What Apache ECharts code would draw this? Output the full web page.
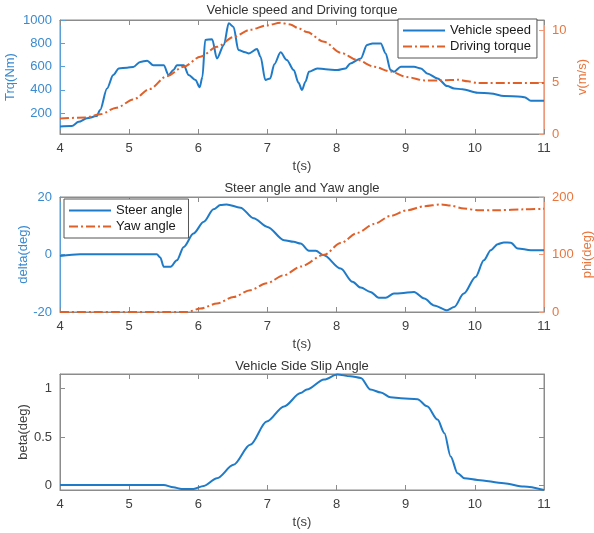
<!DOCTYPE html>
<html><head><meta charset="utf-8">
<script src="https://cdn.jsdelivr.net/npm/echarts@6/dist/echarts.min.js"></script>
<style>html,body{margin:0;padding:0;background:#fff}#c{width:594px;height:533px}</style>
</head><body><div id="c"></div>
<script>
// ---- data ----
const xTicks = [4, 5, 6, 7, 8, 9, 10, 11];

const speedT = [4, 4.17, 4.27, 4.39, 4.53, 4.58, 4.68, 4.77, 4.85, 4.97, 5.06, 5.16, 5.26, 5.35, 5.5, 5.57, 5.64, 5.69, 5.79, 5.86, 5.96, 6.02, 6.06, 6.1, 6.2, 6.27, 6.37, 6.44, 6.51, 6.58, 6.68, 6.73, 6.85, 6.9, 6.97, 7.04, 7.1, 7.19, 7.28, 7.38, 7.45, 7.5, 7.55, 7.6, 7.72, 7.84, 8.01, 8.13, 8.2, 8.35, 8.44, 8.52, 8.64, 8.71, 8.78, 8.83, 8.93, 9.12, 9.22, 9.31, 9.46, 9.6, 9.7, 9.82, 10.04, 10.23, 10.42, 10.67, 10.72, 10.81, 11];
const speedV = [85, 88, 125, 155, 174, 226, 412, 527, 584, 590, 596, 640, 650, 610, 610, 527, 570, 610, 610, 527, 484, 421, 510, 828, 835, 670, 785, 971, 940, 742, 722, 713, 750, 684, 484, 498, 620, 722, 656, 570, 460, 398, 470, 555, 584, 576, 570, 584, 627, 670, 785, 799, 799, 713, 570, 555, 598, 598, 584, 541, 498, 432, 412, 404, 375, 369, 346, 341, 336, 306, 306];

const torqueT = [4, 4.37, 4.58, 4.82, 5.06, 5.3, 5.54, 5.79, 6.03, 6.27, 6.51, 6.75, 6.99, 7.19, 7.33, 7.45, 7.57, 7.82, 8.06, 8.3, 8.54, 8.78, 9.02, 9.27, 9.51, 9.65, 9.75, 9.9, 10.04, 11];
const torqueV = [1.49, 1.59, 1.9, 2.54, 3.33, 4.35, 5.56, 6.5, 7.46, 8.41, 9.36, 10.06, 10.48, 10.73, 10.57, 10.2, 9.84, 8.89, 7.84, 7.14, 6.5, 6.03, 5.49, 5.17, 5.17, 5.2, 5.24, 5.08, 4.92, 4.92];

const steerT = [4, 4.29, 5.4, 5.45, 5.5, 5.6, 5.69, 5.79, 5.93, 6.08, 6.22, 6.32, 6.41, 6.61, 6.8, 7, 7.24, 7.38, 7.48, 7.6, 7.7, 7.81, 8.06, 8.23, 8.35, 8.49, 8.61, 8.71, 8.83, 8.93, 9.12, 9.27, 9.41, 9.6, 9.7, 9.84, 10.01, 10.13, 10.23, 10.33, 10.42, 10.52, 10.62, 10.81, 11];
const steerV = [-0.5, 0.1, 0.1, -1, -4.3, -4.3, -2, 2.65, 7.3, 11.4, 15.7, 17.2, 17.4, 16.3, 12.6, 9.6, 5, 4.4, 3.8, 1.3, 1.3, -0.2, -4.9, -9.5, -11.5, -13, -15, -15, -13.6, -13.5, -13, -15.3, -17.7, -19.4, -18.3, -13.6, -7.8, -2, 1.5, 3.6, 4.2, 4.1, 2.1, 1.5, 1.5];

const yawT = [4, 5.84, 6.03, 6.27, 6.51, 6.75, 6.99, 7.24, 7.48, 7.82, 8.06, 8.3, 8.54, 8.78, 9.02, 9.27, 9.51, 9.65, 9.84, 10.04, 10.33, 10.72, 11];
const yawV = [0, 0, 6, 14.7, 26, 38, 50, 64, 79, 99.5, 120, 137.5, 153, 167, 177, 184, 187, 185, 180, 177, 177, 178.5, 179.6];

const slipT = [4, 5.5, 5.64, 5.76, 5.93, 6.08, 6.27, 6.51, 6.75, 6.99, 7.24, 7.48, 7.57, 7.82, 8.01, 8.2, 8.35, 8.49, 8.64, 8.78, 8.93, 9.17, 9.31, 9.46, 9.56, 9.65, 9.75, 9.85, 10.04, 10.42, 10.71, 11];
const slipV = [0.007, 0.007, -0.017, -0.034, -0.034, -0.003, 0.076, 0.214, 0.42, 0.66, 0.816, 0.954, 0.99, 1.093, 1.145, 1.127, 1.11, 0.99, 0.96, 0.91, 0.9, 0.89, 0.817, 0.68, 0.54, 0.30, 0.128, 0.076, 0.059, 0.025, -0.01, -0.045];

const trqTicks = [200, 400, 600, 800, 1000];
const vTicks = [0, 5, 10];
const deltaTicks = [-20, 0, 20];
const phiTicks = [0, 100, 200];
const betaTicks = [0, 0.5, 1];

const titles = ['Vehicle speed and Driving torque', 'Steer angle and Yaw angle', 'Vehicle Side Slip Angle'];

// ---- styling ----
const FONT = 'Liberation Sans, Arial, sans-serif';
const BLUE = '#1f7bc8', ORANGE = '#e0602a';
const BLUE_AX = '#5a9fd8', BLUE_TXT = '#3a8ad0';
const OR_AX = '#ee9a7a', OR_TXT = '#e9763f';
const GRAY = '#8c8c8c', TXT = '#404040';
const DASHDOT = [9, 3, 2, 3];

const zip = (a, b) => a.map((t, i) => [t, b[i]]);
const plain = v => String(v);

const grids = [
  {left: 60, top: 20, width: 484, height: 114},
  {left: 60, top: 197, width: 484, height: 115},
  {left: 60, top: 374, width: 484, height: 116}
].map(g => Object.assign(g, {show: true, borderColor: GRAY, borderWidth: 1, backgroundColor: 'transparent',
  containLabel: false, outerBoundsMode: 'none'}));

function xBottom(gi) {
  return {type: 'value', gridIndex: gi, min: 4, max: 11, interval: 1, position: 'bottom',
    axisLine: {show: true, onZero: false, lineStyle: {color: GRAY}},
    axisTick: {show: true, inside: true, length: 5, lineStyle: {color: GRAY}},
    axisLabel: {color: TXT, fontSize: 13, margin: 8, fontFamily: FONT, formatter: plain},
    splitLine: {show: false},
    name: 't(s)', nameLocation: 'middle', nameGap: 26, nameMoveOverlap: false,
    nameTextStyle: {color: TXT, fontSize: 13, fontFamily: FONT}};
}
function xTop(gi) {
  return {type: 'value', gridIndex: gi, min: 4, max: 11, interval: 1, position: 'top',
    axisLine: {show: true, onZero: false, lineStyle: {color: GRAY}},
    axisTick: {show: true, inside: true, length: 5, lineStyle: {color: GRAY}},
    axisLabel: {show: false}, splitLine: {show: false}};
}
function yAx(gi, pos, min, max, ticks, axColor, txtColor, name, gap, showLabels) {
  return {type: 'value', gridIndex: gi, position: pos, min: min, max: max,
    axisLine: {show: true, onZero: false, lineStyle: {color: axColor}},
    axisTick: {show: true, inside: true, length: 5, lineStyle: {color: axColor}, customValues: ticks},
    axisLabel: {show: showLabels !== false, color: txtColor, fontSize: 13, margin: 8, fontFamily: FONT,
      customValues: ticks, formatter: plain},
    splitLine: {show: false},
    name: name || '', nameLocation: 'middle', nameRotate: 90, nameGap: gap || 0, nameMoveOverlap: false,
    nameTextStyle: {color: txtColor, fontSize: 13, fontFamily: FONT}};
}

const legendCommon = {orient: 'vertical', itemWidth: 42, itemHeight: 14, itemGap: 3,
  padding: [5, 6, 5, 4], borderColor: '#555', borderWidth: 1, backgroundColor: '#fff',
  itemStyle: {opacity: 0},
  textStyle: {color: '#1a1a1a', fontSize: 13, fontFamily: FONT}};

const option = {
  animation: false,
  backgroundColor: '#fff',
  title: titles.map((t, i) => ({text: t, left: 302, textAlign: 'center', top: [4, 182, 360][i],
    padding: 0, textStyle: {color: '#333', fontSize: 13, fontWeight: 'normal', fontFamily: FONT}})),
  grid: grids,
  legend: [
    Object.assign({data: ['Vehicle speed', 'Driving torque'], left: 398, top: 19}, legendCommon),
    Object.assign({data: ['Steer angle', 'Yaw angle'], left: 64, top: 199}, legendCommon)
  ],
  xAxis: [xBottom(0), xTop(0), xBottom(1), xTop(1), xBottom(2), xTop(2)],
  yAxis: [
    yAx(0, 'left', 20, 1000, trqTicks, BLUE_AX, BLUE_TXT, 'Trq(Nm)', 43),
    yAx(0, 'right', 0, 11, vTicks, OR_AX, OR_TXT, 'v(m/s)', 32),
    yAx(1, 'left', -20, 20, deltaTicks, BLUE_AX, BLUE_TXT, 'delta(deg)', 30),
    yAx(1, 'right', 0, 200, phiTicks, OR_AX, OR_TXT, 'phi(deg)', 37),
    yAx(2, 'left', -0.045, 1.15, betaTicks, GRAY, TXT, 'beta(deg)', 30),
    yAx(2, 'right', -0.045, 1.15, betaTicks, GRAY, TXT, '', 0, false)
  ],
  series: [
    {type: 'line', name: 'Vehicle speed', xAxisIndex: 0, yAxisIndex: 0, data: zip(speedT, speedV),
      symbol: 'none', smooth: 0.3, smoothMonotone: 'x', lineStyle: {color: BLUE, width: 2}, itemStyle: {color: BLUE}, z: 2},
    {type: 'line', name: 'Driving torque', xAxisIndex: 0, yAxisIndex: 1, data: zip(torqueT, torqueV),
      symbol: 'none', smooth: 0.3, smoothMonotone: 'x', lineStyle: {color: ORANGE, width: 2, type: DASHDOT}, itemStyle: {color: ORANGE}, z: 3},
    {type: 'line', name: 'Steer angle', xAxisIndex: 2, yAxisIndex: 2, data: zip(steerT, steerV),
      symbol: 'none', smooth: 0.3, smoothMonotone: 'x', lineStyle: {color: BLUE, width: 2}, itemStyle: {color: BLUE}, z: 2},
    {type: 'line', name: 'Yaw angle', xAxisIndex: 2, yAxisIndex: 3, data: zip(yawT, yawV),
      symbol: 'none', smooth: 0.3, smoothMonotone: 'x', lineStyle: {color: ORANGE, width: 2, type: DASHDOT}, itemStyle: {color: ORANGE}, z: 3},
    {type: 'line', name: 'Side slip', xAxisIndex: 4, yAxisIndex: 4, data: zip(slipT, slipV),
      symbol: 'none', smooth: 0.3, smoothMonotone: 'x', lineStyle: {color: BLUE, width: 2}, itemStyle: {color: BLUE}, z: 2}
  ]
};

const chart = echarts.init(document.getElementById('c'), null, {renderer: 'canvas'});
chart.setOption(option);
</script>
</body></html>
